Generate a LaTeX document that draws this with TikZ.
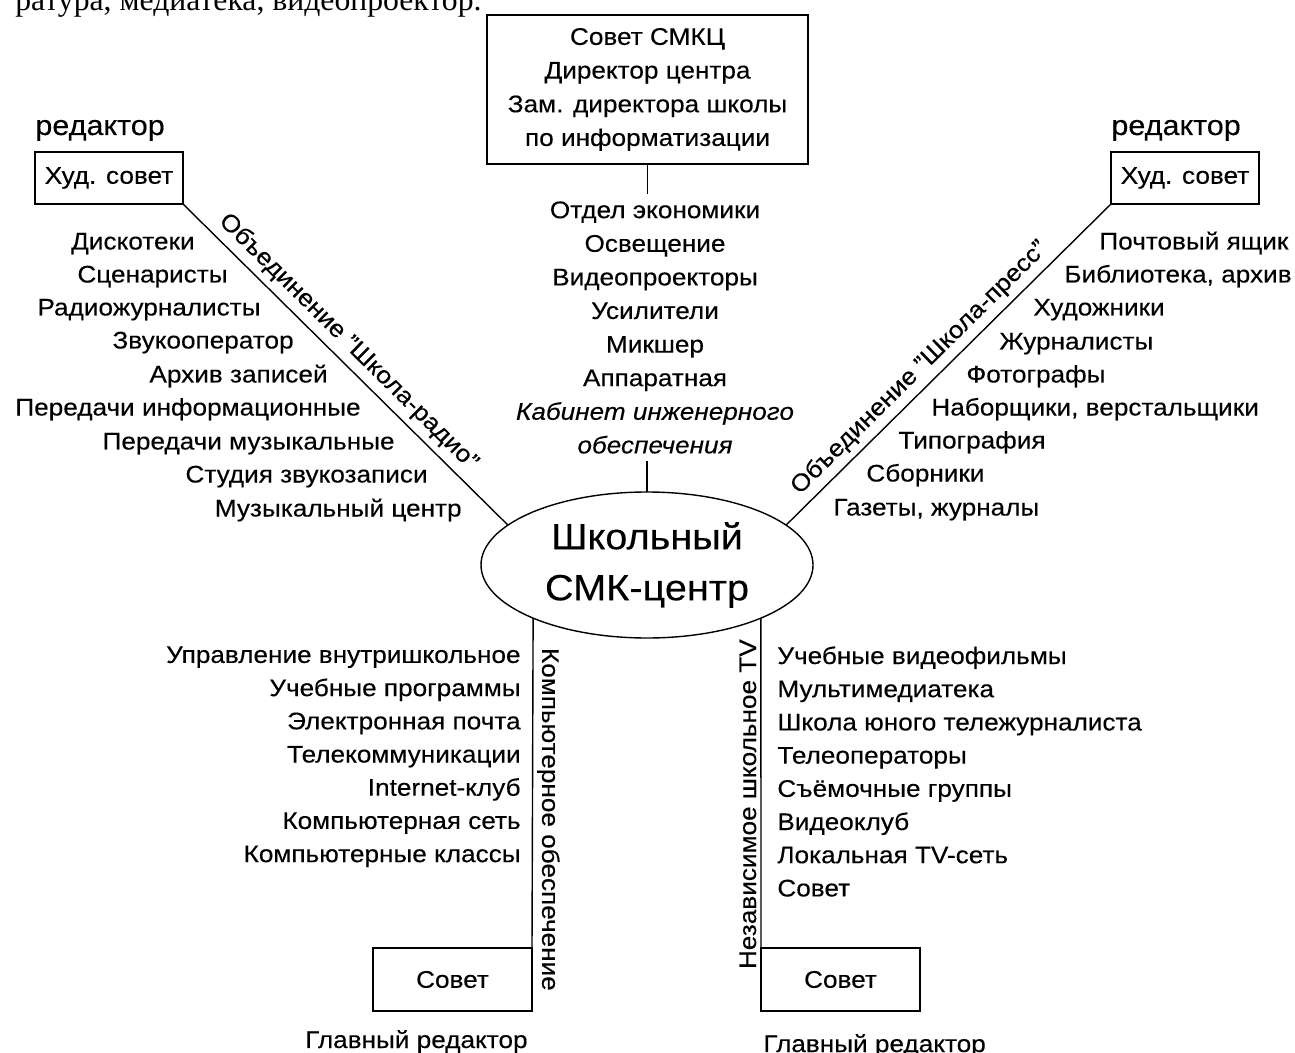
\documentclass[tikz,border=0pt]{standalone}
\usepackage{fontspec}
\setmainfont{Liberation Sans}[FakeStretch=1.09, FakeBold=0.25]
\newfontfamily\pagefont{Liberation Serif}
\usetikzlibrary{shapes.geometric}

\tikzset{
  lnk/.style={line width=0.7pt},
  brd/.style={draw, lnk, inner sep=0pt, outer sep=0pt},
  lst/.style={inner sep=0pt, font=\fontsize{12}{16.6}\selectfont},
  sidelbl/.style={inner sep=3pt, font=\fontsize{12}{14}\selectfont},
  redlbl/.style={inner sep=0pt, font=\fontsize{14}{16}\selectfont}
}

\begin{document}
\begin{tikzpicture}[x=0.5pt, y=-0.5pt]
    \useasboundingbox (0,0) rectangle (1295,1053);

    \node[anchor=base west, inner sep=0pt, font=\pagefont\fontsize{15.85}{18}\selectfont]
      (pagetxt) at (15,11) {ратура, медиатека, видеопроектор.};

    % centre and council
    \node[ellipse, brd, minimum width=166pt, minimum height=73pt, align=center,
          font=\fontsize{18.2}{25.5}\selectfont] (smk) at (647,565) {Школьный\\СМК-центр};
    \node[brd, minimum width=160.5pt, minimum height=74.5pt, align=center,
          font=\fontsize{12}{16.85}\selectfont] (sov) at (647.5,89.5)
      {Совет СМКЦ\\Директор центра\\Зам. директора школы\\по информатизации};
    \node[lst, inner sep=3.5pt, anchor=north, align=center, font=\fontsize{12}{16.8}\selectfont]
      (tech) at (655,194)
      {Отдел экономики\\Освещение\\Видеопроекторы\\Усилители\\Микшер\\Аппаратная\\
       \textit{Кабинет инженерного}\\\textit{обеспечения}};
    \draw[lnk] (sov.south) -- (sov.south |- tech.north);
    \draw[lnk] (smk.north) -- (smk.north |- tech.south);

    % radio
    \node[brd, minimum width=74pt, minimum height=26pt, font=\fontsize{12}{14}\selectfont]
      (radsov) at (109,178) {Худ. совет};
    \node[redlbl, anchor=base west] (radred) at ([yshift=8.5pt]radsov.north west) {редактор};
    \draw[lnk] (radsov.south east) -- (smk.164)
      node[pos=0.47, sloped, above, sidelbl] (radlbl) {Объединение "Школа-радио"};
    \node[lst, anchor=base east] (radi1) at (195,249.5) {Дискотеки};
    \node[lst, anchor=base east] (radi2) at (228,282.5) {Сценаристы};
    \node[lst, anchor=base east] (radi3) at (261,315.5) {Радиожурналисты};
    \node[lst, anchor=base east] (radi4) at (294,348.5) {Звукооператор};
    \node[lst, anchor=base east] (radi5) at (328,382.5) {Архив записей};
    \node[lst, anchor=base east] (radi6) at (361,415.5) {Передачи информационные};
    \node[lst, anchor=base east] (radi7) at (395,449.5) {Передачи музыкальные};
    \node[lst, anchor=base east] (radi8) at (428,482.5) {Студия звукозаписи};
    \node[lst, anchor=base east] (radi9) at (462,516.5) {Музыкальный центр};

    % press
    \node[brd, minimum width=74pt, minimum height=26pt, font=\fontsize{12}{14}\selectfont]
      (presssov) at (1185,178) {Худ. совет};
    \node[redlbl, anchor=base west] (pressred) at ([yshift=8.5pt]presssov.north west) {редактор};
    \draw[lnk] (smk.16) -- (presssov.south west)
      node[pos=0.45, sloped, above, sidelbl] (presslbl) {Объединение "Школа-пресс"};
    \node[lst, anchor=base west] (pres1) at (1099,249.5) {Почтовый ящик};
    \node[lst, anchor=base west] (pres2) at (1064,282.5) {Библиотека, архив};
    \node[lst, anchor=base west] (pres3) at (1033,315.5) {Художники};
    \node[lst, anchor=base west] (pres4) at (999,349.5) {Журналисты};
    \node[lst, anchor=base west] (pres5) at (966,382.5) {Фотографы};
    \node[lst, anchor=base west] (pres6) at (931,415.5) {Наборщики, верстальщики};
    \node[lst, anchor=base west] (pres7) at (898,448.5) {Типография};
    \node[lst, anchor=base west] (pres8) at (866,481.5) {Сборники};
    \node[lst, anchor=base west] (pres9) at (833,515.5) {Газеты, журналы};

    % computers and TV
    \node[brd, minimum width=79.5pt, minimum height=31.5pt, font=\fontsize{12}{14}\selectfont]
      (compsov) at (452.5,979.5) {Совет};
    \node[brd, minimum width=79.5pt, minimum height=31.5pt, font=\fontsize{12}{14}\selectfont]
      (tvsov) at (840.5,979.5) {Совет};
    \draw[lnk] (smk.205) -- (compsov.north east)
      node[pos=0.61, rotate=-90, anchor=south, sidelbl, inner sep=2pt] (complbl) {Компьютерное обеспечение};
    \draw[lnk] (tvsov.north west) -- (smk.335)
      node[pos=0.436, rotate=90, anchor=south, sidelbl, inner sep=2pt] (tvlbl) {Независимое школьное TV};
    \node[lst, anchor=north east, align=right] (complist) at (521,646)
      {Управление внутришкольное\\Учебные программы\\Электронная почта\\Телекоммуникации\\
       Internet-клуб\\Компьютерная сеть\\Компьютерные классы};
    \node[lst, anchor=north west, align=left] (tvlist) at (777,646)
      {Учебные видеофильмы\\Мультимедиатека\\Школа юного тележурналиста\\Телеоператоры\\
       Съёмочные группы\\Видеоклуб\\Локальная TV-сеть\\Совет};
    \node[lst, anchor=base east] (compred) at (528,1048) {Главный редактор};
    \node[lst, anchor=base west] (tvred) at (763,1052) {Главный редактор};
\end{tikzpicture}
\end{document}
